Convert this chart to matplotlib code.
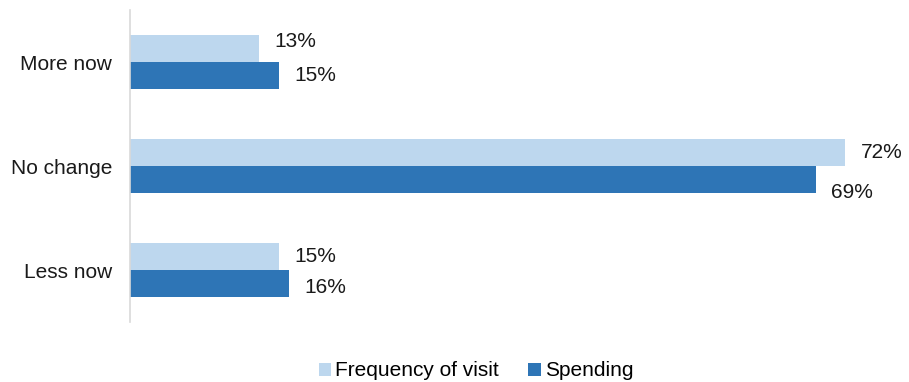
import matplotlib.pyplot as plt
import numpy as np

plt.rcParams['font.family'] = ['Liberation Sans', 'DejaVu Sans']

categories = ['More now', 'No change', 'Less now']
frequency = [13, 72, 15]
spending = [15, 69, 16]

light_blue = '#BDD7EE'
dark_blue = '#2E75B6'

fig = plt.figure(figsize=(9.09, 3.82), dpi=100)
ax = fig.add_axes([130 / 909, 60 / 382, 775 / 909, 312 / 382])

y = np.arange(len(categories))
h = 0.26
ax.barh(y - h / 2, frequency, height=h, color=light_blue, label='Frequency of visit')
ax.barh(y + h / 2, spending, height=h, color=dark_blue, label='Spending')

# data labels; a few nudged up/down the way the original layout has them
freq_dy = [5, 0, 0]
spend_dy = [0, -9, -3]
for i in range(len(categories)):
    ax.annotate(f'{frequency[i]}%', (frequency[i], y[i] - h / 2), xytext=(11, freq_dy[i]),
                textcoords='offset points', va='center', ha='left', fontsize=15, color='#1a1a1a')
    ax.annotate(f'{spending[i]}%', (spending[i], y[i] + h / 2), xytext=(11, spend_dy[i]),
                textcoords='offset points', va='center', ha='left', fontsize=15, color='#1a1a1a')

ax.set_ylim(2.5, -0.5)
ax.set_xlim(0, 78)
ax.set_yticks(y)
ax.set_yticklabels(categories, fontsize=15, color='#1a1a1a')
ax.tick_params(axis='y', length=0, pad=13)
ax.set_xticks([])
for s in ['top', 'right', 'bottom']:
    ax.spines[s].set_visible(False)
ax.spines['left'].set_color('#D9D9D9')
ax.spines['left'].set_linewidth(1.2)

fig.legend(loc='center', bbox_to_anchor=(476 / 909, 11 / 382), ncol=2, frameon=False,
           fontsize=15, handlelength=0.6, handleheight=0.6, handletextpad=0.2,
           columnspacing=1.4)

fig.savefig('out.png', dpi=100)
